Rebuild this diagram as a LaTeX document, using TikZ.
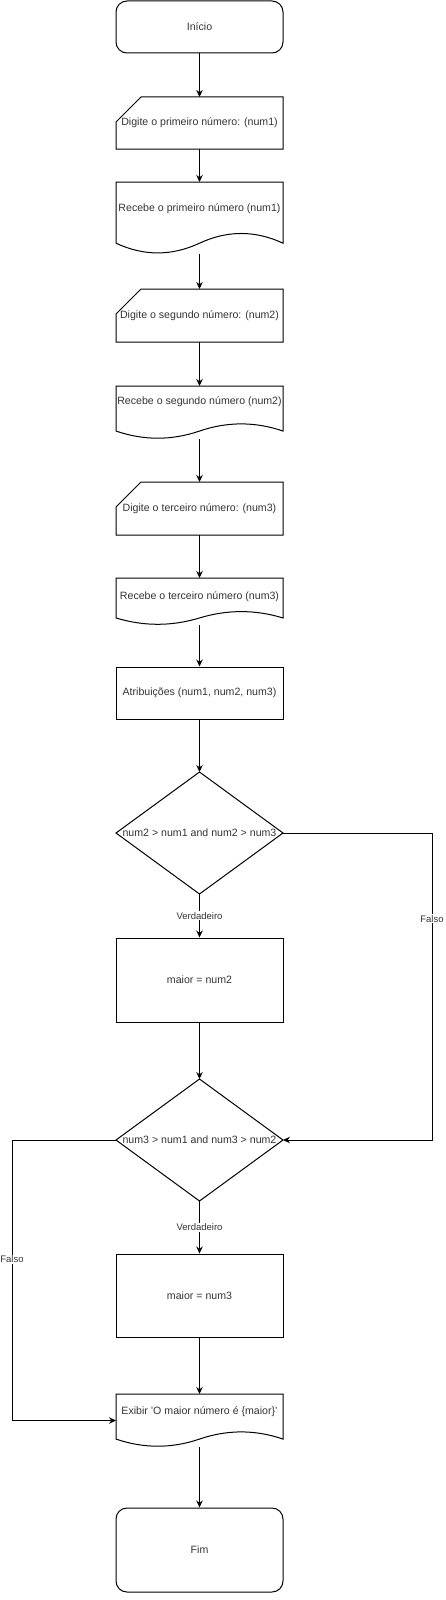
\documentclass[tikz,border=0pt]{standalone}
\usepackage{fontspec}
\setmainfont{Liberation Sans}
\usetikzlibrary{shapes.geometric,arrows.meta,calc}
\newcommand\docdraw[1]{\draw[line] let \p1=(#1.north west), \p2=(#1.south east), \n1={\x2-\x1}, \n2={\y1-\y2} in (\p1) -- (\x2,\y1) -- (\x2,{\y2+0.15*\n2}) .. controls ({\x1+0.8333*\n1},{\y2+0.33*\n2}) and ({\x1+0.6667*\n1},{\y2+0.33*\n2}) .. ({\x1+0.5*\n1},{\y2+0.15*\n2}) .. controls ({\x1+0.3333*\n1},{\y2-0.03*\n2}) and ({\x1+0.1667*\n1},{\y2-0.03*\n2}) .. (\x1,{\y2+0.15*\n2}) -- cycle;}
\newcommand\mandraw[1]{\draw[line] ([yshift=-25pt]#1.north west) -- ([xshift=25pt]#1.north west) -- (#1.north east) -- (#1.south east) -- (#1.south west) -- cycle;}
\begin{document}
\begin{tikzpicture}[x=1pt,y=-1pt,
  line/.style={draw=black, line width=1pt},
  txt/.style={font=\fontsize{10.6}{13}\selectfont, text=black!80, inner sep=0pt},
  term/.style={line, rounded corners=11pt, minimum width=167pt, inner sep=0pt, txt},
  proc/.style={line, minimum width=167pt, inner sep=0pt, txt},
  bb/.style={minimum width=167pt, inner sep=0pt, outer sep=0pt},
  dec/.style={line, diamond, minimum width=167pt, inner sep=0pt, outer sep=0pt},
  arr/.style={line, -{Stealth[length=7pt,width=6.5pt]}},
  elbl/.style={fill=white, font=\fontsize{9.5}{11}\selectfont, text=black!80, inner sep=1pt},
]
\useasboundingbox (0,0) rectangle (445,1600);

\node[term, minimum height=52pt] (ini) at (199.5,27) {Início};

\node[bb, txt, minimum height=52pt] (m1) at (199.5,123) {Digite o primeiro número: (num1)};
\mandraw{m1}

\node[bb, minimum height=72pt] (d1) at (199.5,218) {};
\docdraw{d1}
\node[txt] (d1t) at (199.5,209) {Recebe o primeiro número (num1)};

\node[bb, txt, minimum height=53pt] (m2) at (199.5,315.5) {Digite o segundo número: (num2)};
\mandraw{m2}

\node[bb, minimum height=53pt] (d2) at (199.5,412.5) {};
\docdraw{d2}
\node[txt] (d2t) at (199.5,402) {Recebe o segundo número (num2)};

\node[bb, txt, minimum height=53pt] (m3) at (199.5,508.5) {Digite o terceiro número: (num3)};
\mandraw{m3}

\node[bb, minimum height=47pt] (d3) at (199.5,601.5) {};
\docdraw{d3}
\node[txt] (d3t) at (199.5,597) {Recebe o terceiro número (num3)};

\node[proc, minimum height=52pt] (at) at (199.5,693) {Atribuições (num1, num2, num3)};

\node[dec, minimum height=122pt] (q1) at (199.5,833) {};
\node[txt] (q1t) at (199.5,833) {num2 > num1 and num2 > num3};

\node[proc, minimum height=84pt] (b2) at (199.5,980) {maior = num2};

\node[dec, minimum height=122pt] (q2) at (199.5,1140) {};
\node[txt] (q2t) at (199.5,1140) {num3 > num1 and num3 > num2};

\node[proc, minimum height=83pt] (b3) at (199.5,1295.5) {maior = num3};

\node[bb, minimum height=53pt] (df) at (199.5,1420.5) {};
\docdraw{df}
\node[txt] (dft) at (199.5,1412) {Exibir 'O maior número é \{maior\}'};

\node[term, minimum height=84pt] (fim) at (199.5,1550) {Fim};

\draw[arr] (ini) -- (m1);
\draw[arr] (m1) -- (d1);
\draw[arr] (d1) -- (m2);
\draw[arr] (m2) -- (d2);
\draw[arr] (d2) -- (m3);
\draw[arr] (m3) -- (d3);
\draw[arr] (d3) -- (at);
\draw[arr] (at) -- (q1);
\draw[arr] (q1) -- node[elbl] {Verdadeiro} (b2);
\draw[arr] (b2) -- (q2);
\draw[arr] (q2) -- node[elbl] {Verdadeiro} (b3);
\draw[arr] (b3) -- (df);
\draw[arr] (df) -- (fim);

\coordinate (r1) at (432,833);
\coordinate (r2) at (432,1140);
\draw[arr] (q1.east) -- (r1) -- node[elbl, pos=0.28] {Falso} (r2) -- (q2.east);

\coordinate (l1) at (12,1140);
\coordinate (l2) at (12,1420.5);
\draw[arr] (q2.west) -- (l1) -- node[elbl, pos=0.425] {Falso} (l2) -- (df.west);
\end{tikzpicture}
\end{document}
